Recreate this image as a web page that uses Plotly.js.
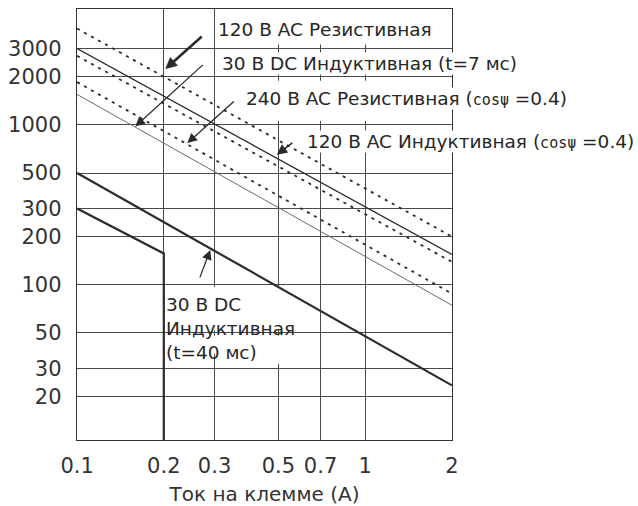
<!DOCTYPE html>
<html>
<head>
<meta charset="utf-8">
<script src="https://cdn.plot.ly/plotly-3.0.1.min.js"></script>
<style>
  html, body { margin: 0; padding: 0; background: #fff; }
  #chart { width: 638px; height: 506px; }
</style>
</head>
<body>
<div id="chart"></div>
<script>
// ---- data ----
const currentEnds = [0.1, 2];                 // A, line end points
const ac120Resistive = [4000, 200];           // dashed, top
const ac120Inductive = [3000, 155];           // solid
const otherDashed = [2700, 139];              // dashed, unlabeled
const ac240Resistive = [1850, 88];            // dashed
const dc30Inductive7 = [1550, 74.5];          // thin solid
const dc30Inductive40 = [500, 23.5];          // thick solid
const cutoffCurrent = [0.1, 0.2, 0.2];
const cutoffVoltage = [300, 157, 10];

const xTicks = [0.1, 0.2, 0.3, 0.5, 0.7, 1, 2];
const xTickText = ['0.1', '0.2', '0.3', '0.5', '0.7', '1', '2'];
const yTicks = [20, 30, 50, 100, 200, 300, 500, 1000, 2000, 3000];
const yTickText = ['20', '30', '50', '100', '200', '300', '500', '1000', '2000', '3000'];

const ink = '#2b2b2b';
const dashPat = '3px,5px';

const traces = [
  {x: currentEnds, y: ac120Resistive, mode: 'lines', line: {color: ink, width: 1.8, dash: dashPat}},
  {x: currentEnds, y: ac120Inductive, mode: 'lines', line: {color: ink, width: 1.3}},
  {x: currentEnds, y: otherDashed, mode: 'lines', line: {color: ink, width: 1.8, dash: dashPat}},
  {x: currentEnds, y: ac240Resistive, mode: 'lines', line: {color: ink, width: 1.8, dash: dashPat}},
  {x: currentEnds, y: dc30Inductive7, mode: 'lines', line: {color: '#6a6a6a', width: 1}},
  {x: currentEnds, y: dc30Inductive40, mode: 'lines', line: {color: ink, width: 2.2}},
  {x: cutoffCurrent, y: cutoffVoltage, mode: 'lines', line: {color: ink, width: 2.2}}
];

// white gaps that interrupt vertical grid lines behind the labels
const gaps = [];
const upperGridX = [0.5, 0.7, 1];
const upperBands = [[3000 * 1.06, 5400], [2000 * 1.06, 3000 / 1.06], [1000 * 1.06, 2000 / 1.06]];
upperGridX.forEach(v => upperBands.forEach(b => gaps.push({
  type: 'rect', xref: 'x', yref: 'y', x0: v / 1.012, x1: v * 1.012, y0: b[0], y1: b[1],
  fillcolor: '#fff', line: {width: 0}, layer: 'between'
})));
const lowerGridX = [0.3, 0.5];
const lowerBands = [[[37, 48], [52, 97]], [[32, 48], [52, 97]]];
lowerGridX.forEach((v, i) => lowerBands[i].forEach(b => gaps.push({
  type: 'rect', xref: 'x', yref: 'y', x0: v / 1.012, x1: v * 1.012, y0: b[0], y1: b[1],
  fillcolor: '#fff', line: {width: 0}, layer: 'between'
})));

const lblFont = {family: 'DejaVu Sans', size: 18.5, color: '#262626'};
const cosPart = '<span style="font-family:\'DejaVu Sans Mono\';font-size:15px">cosψ</span>';

function label(text, x, y, bg) {
  return {text: text, xref: 'paper', yref: 'paper', x: x, y: y, xanchor: 'left', yanchor: 'middle',
          showarrow: false, font: lblFont, align: 'left', bgcolor: bg || 'rgba(0,0,0,0)', borderpad: 0};
}
function arrow(x, y, ax, ay, w, s) {
  return {text: '', xref: 'paper', yref: 'paper', x: x, y: y, ax: ax, ay: ay, showarrow: true,
          arrowhead: 2, arrowsize: s, arrowwidth: w, arrowcolor: ink, standoff: 0};
}

const annotations = [
  label('120 В AC Резистивная', 0.372, 0.952, '#fff'),
  label('30 В DC Индуктивная (t=7 мс)', 0.384, 0.8746, '#fff'),
  label('240 В AC Резистивная (' + cosPart + ' =0.4)', 0.448, 0.7934, '#fff'),
  label('120 В AC Индуктивная (' + cosPart + ' =0.4)', 0.61, 0.6926, '#fff'),
  label('30 В DC<br>Индуктивная<br>(t=40 мс)', 0.235, 0.2593),
  arrow(0.2355, 0.8606, 38, -34, 2.6, 0.9),
  arrow(0.1555, 0.7274, 69, -63, 1.3, 1.5),
  arrow(0.2941, 0.6889, 48, -43, 1.3, 1.5),
  arrow(0.5328, 0.6617, 17, -13, 1.6, 1.3),
  arrow(0.3555, 0.4411, -11, 29, 1.3, 1.5)
];

const layout = {
  width: 638, height: 506,
  margin: {l: 77, r: 186, t: 9, b: 66},
  paper_bgcolor: '#fff', plot_bgcolor: '#fff',
  showlegend: false,
  font: {family: 'DejaVu Sans', color: '#333'},
  xaxis: {
    type: 'log', range: [-1.0003, 0.3013],
    tickvals: xTicks, ticktext: xTickText,
    tickfont: {size: 21, color: '#333'},
    showgrid: true, gridcolor: '#4a4a4a', gridwidth: 1,
    showline: true, mirror: true, linecolor: '#333', linewidth: 1.3,
    zeroline: false, ticks: '', ticklabelstandoff: 6,
    title: {text: 'Ток на клемме (А)', font: {size: 20, color: '#333'}, standoff: 14}
  },
  yaxis: {
    type: 'log', range: [1.0293, 3.7245],
    tickvals: yTicks, ticktext: yTickText,
    tickfont: {size: 21, color: '#333'},
    showgrid: true, gridcolor: '#4a4a4a', gridwidth: 1,
    showline: true, mirror: true, linecolor: '#333', linewidth: 1.3,
    zeroline: false, ticks: '', ticklabelstandoff: 10
  },
  shapes: gaps,
  annotations: annotations
};

Plotly.newPlot('chart', traces, layout, {staticPlot: true, displayModeBar: false});
</script>
</body>
</html>
